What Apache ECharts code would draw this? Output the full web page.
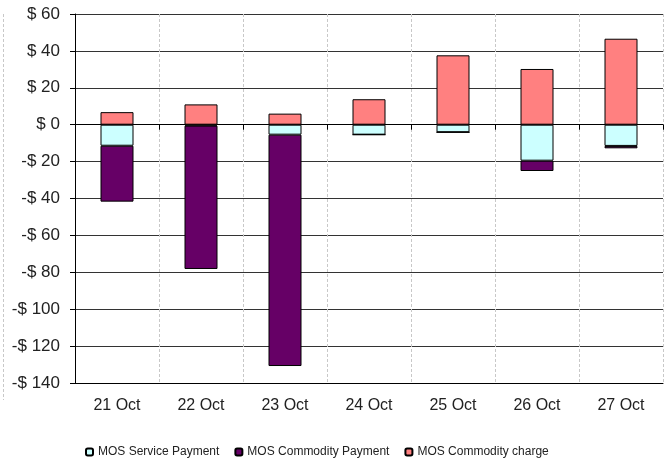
<!DOCTYPE html>
<html>
<head>
<meta charset="utf-8">
<script src="https://cdn.jsdelivr.net/npm/echarts@6/dist/echarts.min.js"></script>
<style>
  html, body { margin: 0; padding: 0; background: #fff; }
  #chart { width: 664px; height: 466px; }
</style>
</head>
<body>
<div id="chart"></div>
<script>
var days = ['21 Oct', '22 Oct', '23 Oct', '24 Oct', '25 Oct', '26 Oct', '27 Oct'];
var servicePayment = [-11.4, -0.5, -5.4, -5.4, -4.1, -19.5, -11.5];
var commodityPayment = [-30.3, -77.7, -125.4, 0, 0, -5.6, -1.3];
var commodityCharge = [6.8, 11.0, 6.0, 13.8, 37.6, 30.2, 46.6];
var yTicks = { min: -140, max: 60, step: 20 };

document.addEventListener('DOMContentLoaded', function(){
  var chart = echarts.init(document.getElementById('chart'));
  var font = 'Liberation Sans, Arial, sans-serif';
  var border = { borderColor: '#000', borderWidth: 1 };

  function money(v){
    return v < 0 ? '-$ ' + Math.abs(v) : '$ ' + v;
  }

  chart.setOption({
    animation: false,
    textStyle: { fontFamily: font },
    graphic: [{
      type: 'line', silent: true,
      shape: { x1: 3.5, y1: 14, x2: 3.5, y2: 400 },
      style: { stroke: '#c8c8c8', lineWidth: 1, lineDash: [3, 2] }
    }],
    grid: { left: 75, right: 1, top: 14, bottom: 83 },
    legend: {
      left: 85, top: 446, padding: 0,
      itemWidth: 7, itemHeight: 7, itemGap: 15,
      textStyle: { fontSize: 12, color: '#222', fontFamily: font },
      data: ['MOS Service Payment', 'MOS Commodity Payment', 'MOS Commodity charge']
    },
    xAxis: [{
      type: 'category', data: days, position: 'bottom',
      axisLine: { onZero: false, lineStyle: { color: '#000' } },
      axisTick: { show: false },
      axisLabel: { fontSize: 16, color: '#222', margin: 15 },
      splitLine: { show: true, lineStyle: { color: '#c8c8c8', type: [3, 2] } }
    }, {
      type: 'category', data: days, position: 'bottom',
      axisLine: { onZero: true, lineStyle: { color: '#000' } },
      axisTick: { show: true, length: 5, lineStyle: { color: '#000' } },
      axisLabel: { show: false },
      splitLine: { show: false }
    }],
    yAxis: {
      type: 'value', min: yTicks.min, max: yTicks.max, interval: yTicks.step,
      axisLine: { show: true, lineStyle: { color: '#000' } },
      axisTick: { show: true, length: 5, lineStyle: { color: '#000' } },
      axisLabel: { fontSize: 17, color: '#222', margin: 15, formatter: money },
      splitLine: { lineStyle: { color: '#333', width: 1 } }
    },
    series: [{
      name: 'MOS Service Payment', type: 'bar', stack: 'a', barWidth: 33,
      data: servicePayment,
      itemStyle: Object.assign({ color: '#ccffff' }, border)
    }, {
      name: 'MOS Commodity Payment', type: 'bar', stack: 'a', barWidth: 33,
      data: commodityPayment,
      itemStyle: Object.assign({ color: '#660066' }, border)
    }, {
      name: 'MOS Commodity charge', type: 'bar', stack: 'a', barWidth: 33,
      data: commodityCharge,
      itemStyle: Object.assign({ color: '#ff8080' }, border)
    }]
  });
});
</script>
</body>
</html>
